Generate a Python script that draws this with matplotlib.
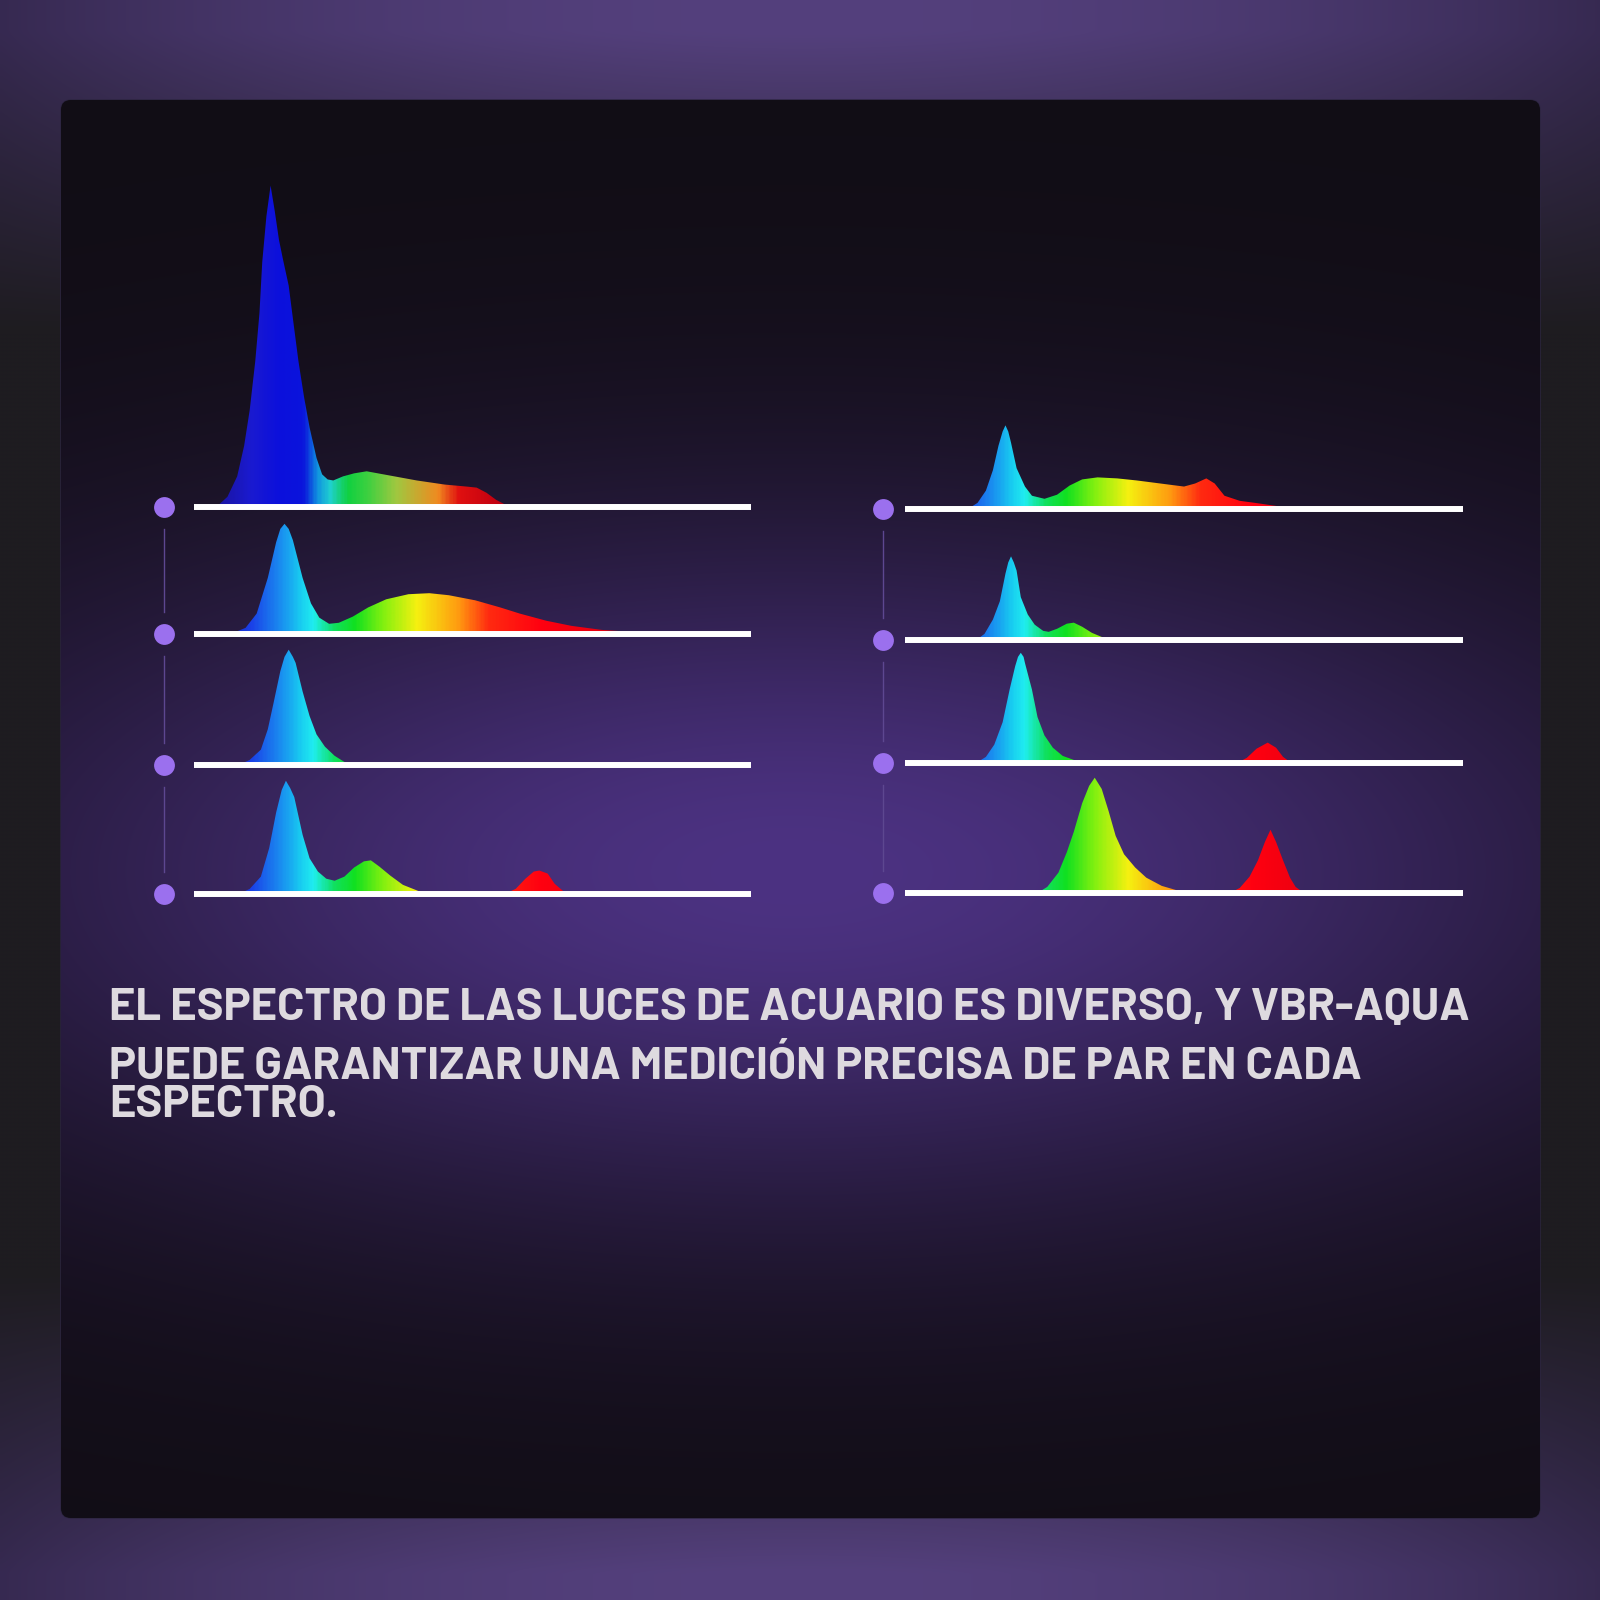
import numpy as np
import matplotlib
matplotlib.use('Agg')
import matplotlib.pyplot as plt
from matplotlib.colors import LinearSegmentedColormap, to_rgb
from matplotlib.patches import FancyBboxPatch, Polygon
import matplotlib.transforms as mtransforms

# spectra: wavelength (nm) and relative intensity
l1_nm = [416, 424, 431, 436, 440, 444, 447, 449, 452, 455, 458, 461, 464, 468, 471, 475, 479, 483,
         488, 492, 496, 500, 507, 515, 524, 540, 560, 580, 596, 603, 610, 617, 624, 630]
l1_val = [0, 10, 30, 60, 95, 143, 190, 240, 285, 315, 290, 262, 242, 217, 185, 143, 108, 78,
          48, 32, 27, 26, 30, 33, 35, 31, 26, 22, 20, 19, 14, 7, 2, 0]

l2_nm = [426, 437, 445, 453, 459, 462, 465, 468, 471, 478, 484, 490, 497, 504, 514, 525, 538, 554,
         569, 583, 602, 620, 634, 653, 671, 693, 715, 737]
l2_val = [0, 6, 20, 55, 90, 103, 108, 103, 92, 55, 30, 16, 10, 11, 17, 26, 34, 39,
          40, 38, 33, 26, 20, 13, 8, 4, 2, 0]

l3_nm = [432, 440, 448, 453, 457, 462, 465, 468, 471, 473, 478, 483, 488, 494, 501, 508, 516]
l3_val = [0, 5, 15, 35, 60, 92, 106, 113, 106, 100, 72, 48, 30, 18, 9, 3, 0]

l4_nm = [432, 440, 448, 454, 459, 463, 466, 469, 472, 478, 483, 489, 495, 501, 508, 515, 522, 527,
         533, 541, 550, 561, 572, 623, 631, 638, 644, 648, 654, 659, 665, 671]
l4_val = [0, 5, 17, 45, 80, 102, 111, 104, 95, 58, 35, 22, 15, 13, 17, 26, 32, 33,
          27, 18, 9, 3, 0, 0, 5, 15, 22, 23, 20, 10, 3, 0]

r1_nm = [445, 452, 458, 463, 467, 470, 472, 474, 476, 480, 486, 491, 500, 509, 518, 527, 538, 552,
         566, 583, 600, 608, 616, 622, 629, 640, 651, 666, 680]
r1_val = [0, 6, 18, 38, 62, 76, 82, 76, 65, 40, 22, 13, 10, 14, 23, 29, 31, 30,
          28, 25, 22, 25, 30, 25, 13, 8, 6, 3, 0]

r2_nm = [451, 457, 463, 468, 472, 474, 476, 478, 480, 483, 488, 493, 499, 503, 509, 516, 521, 527,
         534, 541, 550]
r2_val = [0, 6, 20, 38, 65, 76, 82, 76, 68, 42, 25, 15, 9, 8, 11, 16, 17, 13, 7, 3, 0]

r3_nm = [451, 458, 464, 470, 475, 479, 481, 483, 485, 486, 491, 495, 500, 506, 513, 521, 528,
         638, 645, 652, 660, 666, 671, 677]
r3_val = [0, 6, 18, 40, 72, 95, 104, 108, 104, 98, 72, 45, 27, 15, 7, 3, 0,
          0, 5, 14, 20, 15, 6, 0]

r4_nm = [495, 502, 510, 516, 521, 527, 532, 536, 541, 546, 551, 557, 565, 573, 584, 594, 603,
         633, 640, 647, 653, 658, 662, 666, 671, 676, 680, 686]
r4_val = [0, 6, 20, 40, 60, 88, 105, 113, 102, 80, 56, 38, 25, 15, 7, 3, 0,
          0, 5, 16, 32, 50, 62, 50, 32, 15, 6, 0]

left_spectra = [(l1_nm, l1_val), (l2_nm, l2_val), (l3_nm, l3_val), (l4_nm, l4_val)]
right_spectra = [(r1_nm, r1_val), (r2_nm, r2_val), (r3_nm, r3_val), (r4_nm, r4_val)]

text_lines = ['EL ESPECTRO DE LAS LUCES DE ACUARIO ES DIVERSO, Y VBR-AQUA',
              'PUEDE GARANTIZAR UNA MEDICIÓN PRECISA DE PAR EN CADA',
              'ESPECTRO.']

# layout (pixels of the 1600x1600 picture)
W = 1600
NM_MIN, NM_MAX, VAL_MAX = 400, 800, 330
PX_PER_VAL = 1600 / 1568
LEFT_X0, LEFT_W = 194, 557
RIGHT_X0, RIGHT_W = 905, 558
LEFT_BASE = [507, 634, 765, 894]
RIGHT_BASE = [509, 640, 763, 893]
LEFT_DOT_X, RIGHT_DOT_X = 164, 883
TEXT_X = 109
TEXT_BASE = [1020, 1079, 1117]
TEXT_FONT = ['Barlow', 'Barlow Semi Condensed', 'DejaVu Sans']


def make_cmap(stops, name):
    pos = [(s[0] - NM_MIN) / (NM_MAX - NM_MIN) for s in stops]
    return LinearSegmentedColormap.from_list(name, list(zip(pos, [s[1] for s in stops])))


spec_cmap = make_cmap([(400, '#1a0a90'), (440, '#1a40e8'), (462, '#1a8ff0'), (475, '#18c8f0'),
                       (485, '#20eef0'), (500, '#10e060'), (515, '#10e020'), (535, '#80f010'),
                       (560, '#f5f010'), (590, '#ff9a10'), (612, '#ff2a10'), (650, '#ff0010'),
                       (800, '#b00010')], 'spec')
deep_cmap = make_cmap([(400, '#1a1080'), (440, '#1a1ad0'), (460, '#0c10dc'), (478, '#0a14dc'),
                       (488, '#1090e0'), (497, '#20d0d0'), (510, '#10d040'), (525, '#40d040'),
                       (545, '#a0c840'), (575, '#f08a20'), (590, '#e01010'), (620, '#c00010'),
                       (800, '#a00010')], 'deep')

fig = plt.figure(figsize=(16, 16), dpi=100)

# background
bg = fig.add_axes([0, 0, 1, 1])
bg.set_xlim(0, W)
bg.set_ylim(W, 0)
bg.axis('off')

yy, xx = np.mgrid[0:W:4, 0:W:4].astype(float)
dark = np.array(to_rgb('#1e1c20'))
purple = np.array(to_rgb('#54407d'))
w = np.clip((np.abs(yy - 800) - 470) / 300, 0, 1)[..., None]
hx = (1 - 0.35 * ((xx - 800) / 800) ** 2)[..., None]
outer = dark + (purple * hx - dark) * w
bg.imshow(outer, extent=(0, W, W, 0), interpolation='bilinear', zorder=0)

panel = FancyBboxPatch((61, 100), 1479, 1418, boxstyle='round,pad=0,rounding_size=10',
                       facecolor='#110d15', edgecolor='#2c2540', lw=1, zorder=1)
bg.add_patch(panel)
pdark = np.array(to_rgb('#110d15'))
pglow = np.array(to_rgb('#4c3282'))
g = np.exp(-((xx - 790) / 850) ** 2 - ((yy - 870) / 340) ** 2)[..., None]
glow = pdark + (pglow - pdark) * g
im = bg.imshow(glow, extent=(0, W, W, 0), interpolation='bilinear', zorder=2)
im.set_clip_path(panel)

# connectors between the dots
for dx, bases in [(LEFT_DOT_X, LEFT_BASE), (RIGHT_DOT_X, RIGHT_BASE)]:
    for a, b in zip(bases[:-1], bases[1:]):
        bg.plot([dx, dx], [a + 22, b - 22], color='#5d4790', lw=1, zorder=3)

for i, line in enumerate(text_lines):
    bg.text(TEXT_X, TEXT_BASE[i], line, color='#dedadf', fontsize=32.6, fontweight='bold',
            family=TEXT_FONT, va='baseline', ha='left', zorder=5)


def draw_spectrum(x0, width, base, dot_x, nm, val, cmap):
    h = VAL_MAX * PX_PER_VAL
    ax = fig.add_axes([x0 / W, 1 - base / W, width / W, h / W])
    ax.set_xlim(NM_MIN, NM_MAX)
    ax.set_ylim(0, VAL_MAX)
    ax.axis('off')
    ax.patch.set_alpha(0)
    grad = np.linspace(NM_MIN, NM_MAX, 400)[None, :]
    img = ax.imshow(grad, cmap=cmap, extent=(NM_MIN, NM_MAX, 0, VAL_MAX), aspect='auto',
                    vmin=NM_MIN, vmax=NM_MAX, interpolation='bilinear')
    poly = Polygon(list(zip(nm, val)), closed=True, facecolor='none', edgecolor='none')
    ax.add_patch(poly)
    img.set_clip_path(poly)
    ax.axhline(0, color='white', lw=4.3, solid_capstyle='butt', zorder=4, clip_on=False)
    # dot left of the base line
    trans = mtransforms.blended_transform_factory(ax.transAxes, ax.transData)
    ax.plot([(dot_x - x0) / width], [0], 'o', ms=15, color='#9b70ee', mec='none',
            transform=trans, clip_on=False, zorder=5)


for i, (nm, val) in enumerate(left_spectra):
    draw_spectrum(LEFT_X0, LEFT_W, LEFT_BASE[i], LEFT_DOT_X, nm, val,
                  deep_cmap if i == 0 else spec_cmap)
for i, (nm, val) in enumerate(right_spectra):
    draw_spectrum(RIGHT_X0, RIGHT_W, RIGHT_BASE[i], RIGHT_DOT_X, nm, val, spec_cmap)

fig.savefig('out.png', dpi=100)
